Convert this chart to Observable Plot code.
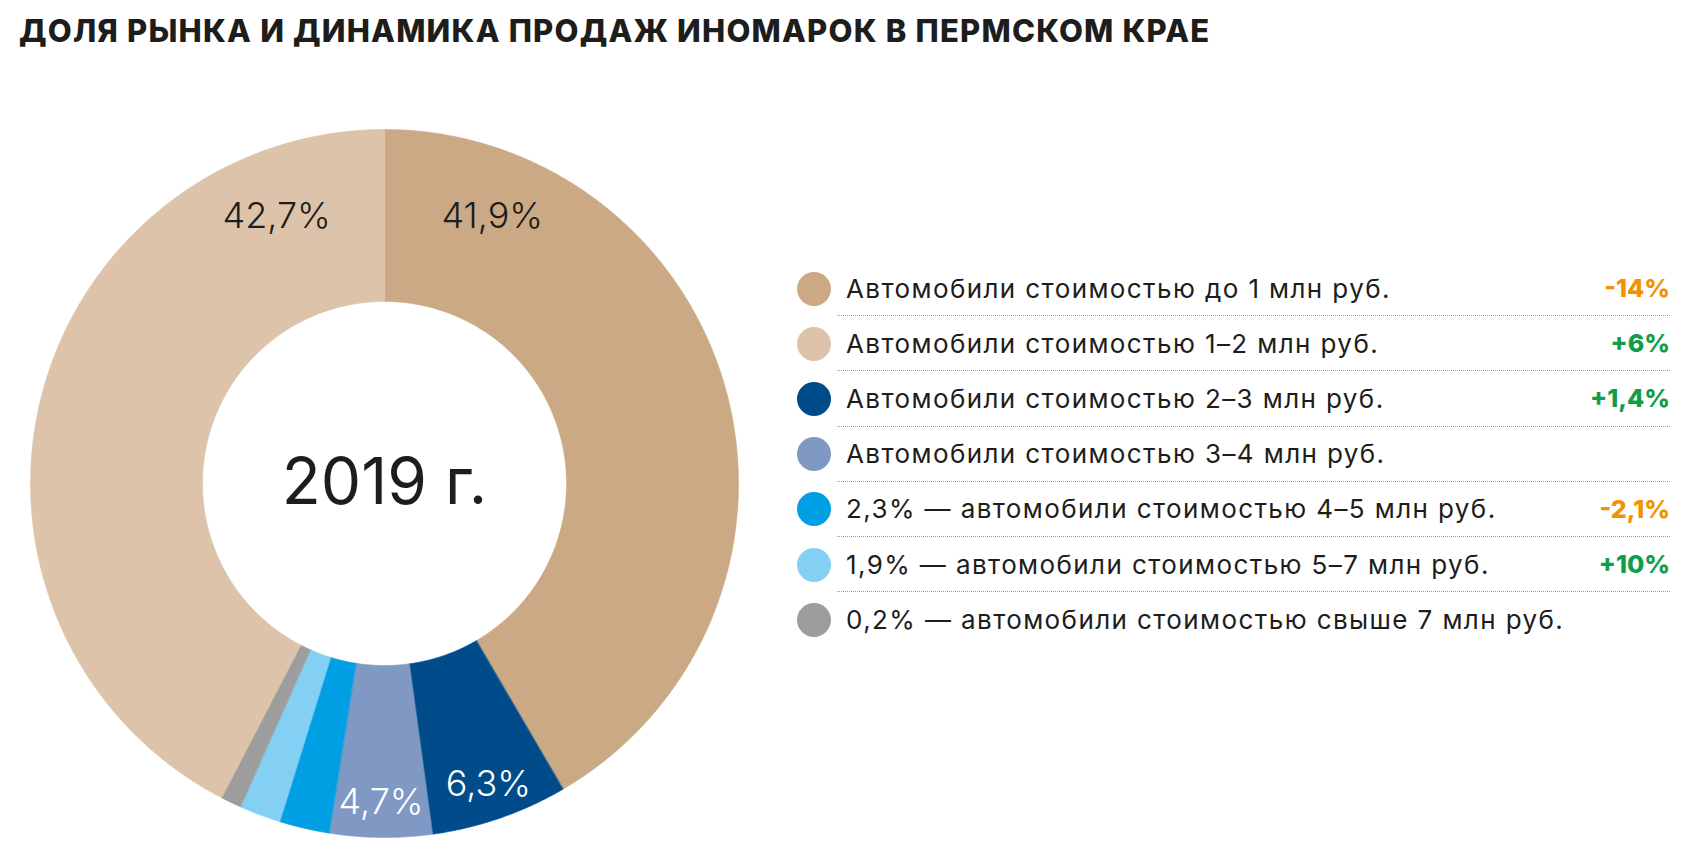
<!DOCTYPE html>
<html>
<head>
<meta charset="utf-8">
<script src="https://cdn.jsdelivr.net/npm/d3@7"></script>
<script src="https://cdn.jsdelivr.net/npm/@observablehq/plot@0.6"></script>
<style>
  html, body { margin: 0; padding: 0; background: #fff; }
  body { width: 1686px; height: 862px; position: relative; overflow: hidden; font-family: "Inter", "Open Sans", sans-serif; color: #1d1d1b; }
  #title { position: absolute; left: 19px; top: 12px; font-size: 31px; font-weight: 800; letter-spacing: 1.2px; white-space: nowrap; }
  #chart { position: absolute; left: 0; top: 113px; }
  #legend { position: absolute; left: 797px; top: 261px; width: 873px; }
  .row { display: flex; align-items: center; height: 55.2px; }
  .dot { width: 34px; height: 34px; border-radius: 50%; flex: none; }
  .content { flex: 1; height: 100%; margin-left: 6px; padding-left: 9px; display: flex; align-items: center; box-sizing: border-box; border-bottom: 1px dotted #9a9a9a; }
  .row:last-child .content { border-bottom: none; }
  .label { font-size: 26px; font-weight: 400; letter-spacing: 1.4px; white-space: nowrap; }
  .change { margin-left: auto; font-size: 25px; font-weight: 800; }
</style>
</head>
<body>
<div id="title">ДОЛЯ РЫНКА И ДИНАМИКА ПРОДАЖ ИНОМАРОК В ПЕРМСКОМ КРАЕ</div>
<div id="chart"></div>
<div id="legend"></div>
<script>
// ---- data (legend order) ----
const categories = [
  "до 1 млн руб.", "1–2 млн руб.", "2–3 млн руб.", "3–4 млн руб.",
  "4–5 млн руб.", "5–7 млн руб.", "свыше 7 млн руб."
];
const shares = [41.9, 42.7, 6.3, 4.7, 2.3, 1.9, 0.2];
const colors = ["#cba985", "#dcc3a9", "#004c8a", "#7f98c4", "#009fe3", "#84cff4", "#9d9d9d"];
const legendLabels = [
  "Автомобили стоимостью до 1 млн руб.",
  "Автомобили стоимостью 1–2 млн руб.",
  "Автомобили стоимостью 2–3 млн руб.",
  "Автомобили стоимостью 3–4 млн руб.",
  "2,3% — автомобили стоимостью 4–5 млн руб.",
  "1,9% — автомобили стоимостью 5–7 млн руб.",
  "0,2% — автомобили стоимостью свыше 7 млн руб."
];
const changes = ["-14%", "+6%", "+1,4%", "", "-2,1%", "+10%", ""];
const pieOrder = [0, 2, 3, 4, 5, 6, 1]; // clockwise from 12 o'clock
const centerLabel = "2019 г.";

// ---- layout ----
const W = 768, H = 740, R = 354, r0 = 182;
const minAngle = 3.4; // degrees, minimum visible slice

// slice angles (degrees, clockwise from top)
const rawAngles = pieOrder.map(i => shares[i] / d3.sum(shares) * 360);
const small = rawAngles.map(a => a < minAngle);
const fixedTotal = d3.sum(rawAngles.filter((a, k) => small[k]).map(() => minAngle));
const restRaw = d3.sum(rawAngles.filter((a, k) => !small[k]));
const angles = rawAngles.map((a, k) => small[k] ? minAngle : a * (360 - fixedTotal) / restRaw);
let acc = 0;
const slices = pieOrder.map((i, k) => {
  const a0 = acc, a1 = acc + angles[k];
  acc = a1;
  return {i, cat: categories[i], share: shares[i], a0, a1};
});

const rad = d => d * Math.PI / 180;
const pt = (a, rr) => ({x: rr * Math.sin(rad(a)), y: rr * Math.cos(rad(a))});

const polyPoints = [];
for (const s of slices) {
  const n = Math.max(2, Math.ceil((s.a1 - s.a0) / 0.25));
  for (let j = 0; j <= n; j++) polyPoints.push({cat: s.cat, ...pt(s.a0 + (s.a1 - s.a0) * j / n, 1)});
  for (let j = n; j >= 0; j--) polyPoints.push({cat: s.cat, ...pt(s.a0 + (s.a1 - s.a0) * j / n, r0 / R)});
}

const fmt = v => v.toFixed(1).replace(".", ",") + "%";
const labels = slices.filter(s => s.share >= 4).map(s => {
  let a, rr, dark;
  if (s.share > 20) {
    a = s.a0 === 0 ? s.a0 + 22 : s.a1 - 22;
    rr = 0.813; dark = true;
  } else {
    a = (s.a0 + s.a1) / 2; rr = 0.9; dark = false;
  }
  return {...pt(a, rr), text: fmt(s.share), dark};
});

const chart = Plot.plot({
  width: W, height: H, margin: 0,
  x: {domain: [-(W / 2) / R, (W / 2) / R], axis: null},
  y: {domain: [-(H / 2) / R, (H / 2) / R], axis: null},
  color: {domain: categories, range: colors},
  style: {fontFamily: "Inter, 'Open Sans', sans-serif", background: "transparent"},
  marks: [
    Plot.line(polyPoints, {x: "x", y: "y", z: "cat", fill: "cat", stroke: "cat", strokeWidth: 0.6, curve: "linear-closed"}),
    Plot.text(labels.filter(d => d.dark), {x: "x", y: "y", text: "text", fill: "#1d1d1b", fontSize: 36, fontWeight: 300}),
    Plot.text(labels.filter(d => !d.dark), {x: "x", y: "y", text: "text", fill: "#ffffff", fontSize: 36, fontWeight: 300}),
    Plot.text([centerLabel], {x: () => 0, y: () => 0, text: d => d, fill: "#1d1d1b", fontSize: 64, fontWeight: 400})
  ]
});
document.getElementById("chart").appendChild(chart);

// ---- legend ----
const legend = d3.select("#legend");
categories.forEach((c, i) => {
  const row = legend.append("div").attr("class", "row");
  row.append("div").attr("class", "dot").style("background", colors[i]);
  const content = row.append("div").attr("class", "content");
  content.append("span").attr("class", "label").text(legendLabels[i]);
  content.append("span").attr("class", "change")
    .style("color", changes[i].startsWith("-") ? "#f39200" : "#0f9d48")
    .text(changes[i]);
});
</script>
</body>
</html>
